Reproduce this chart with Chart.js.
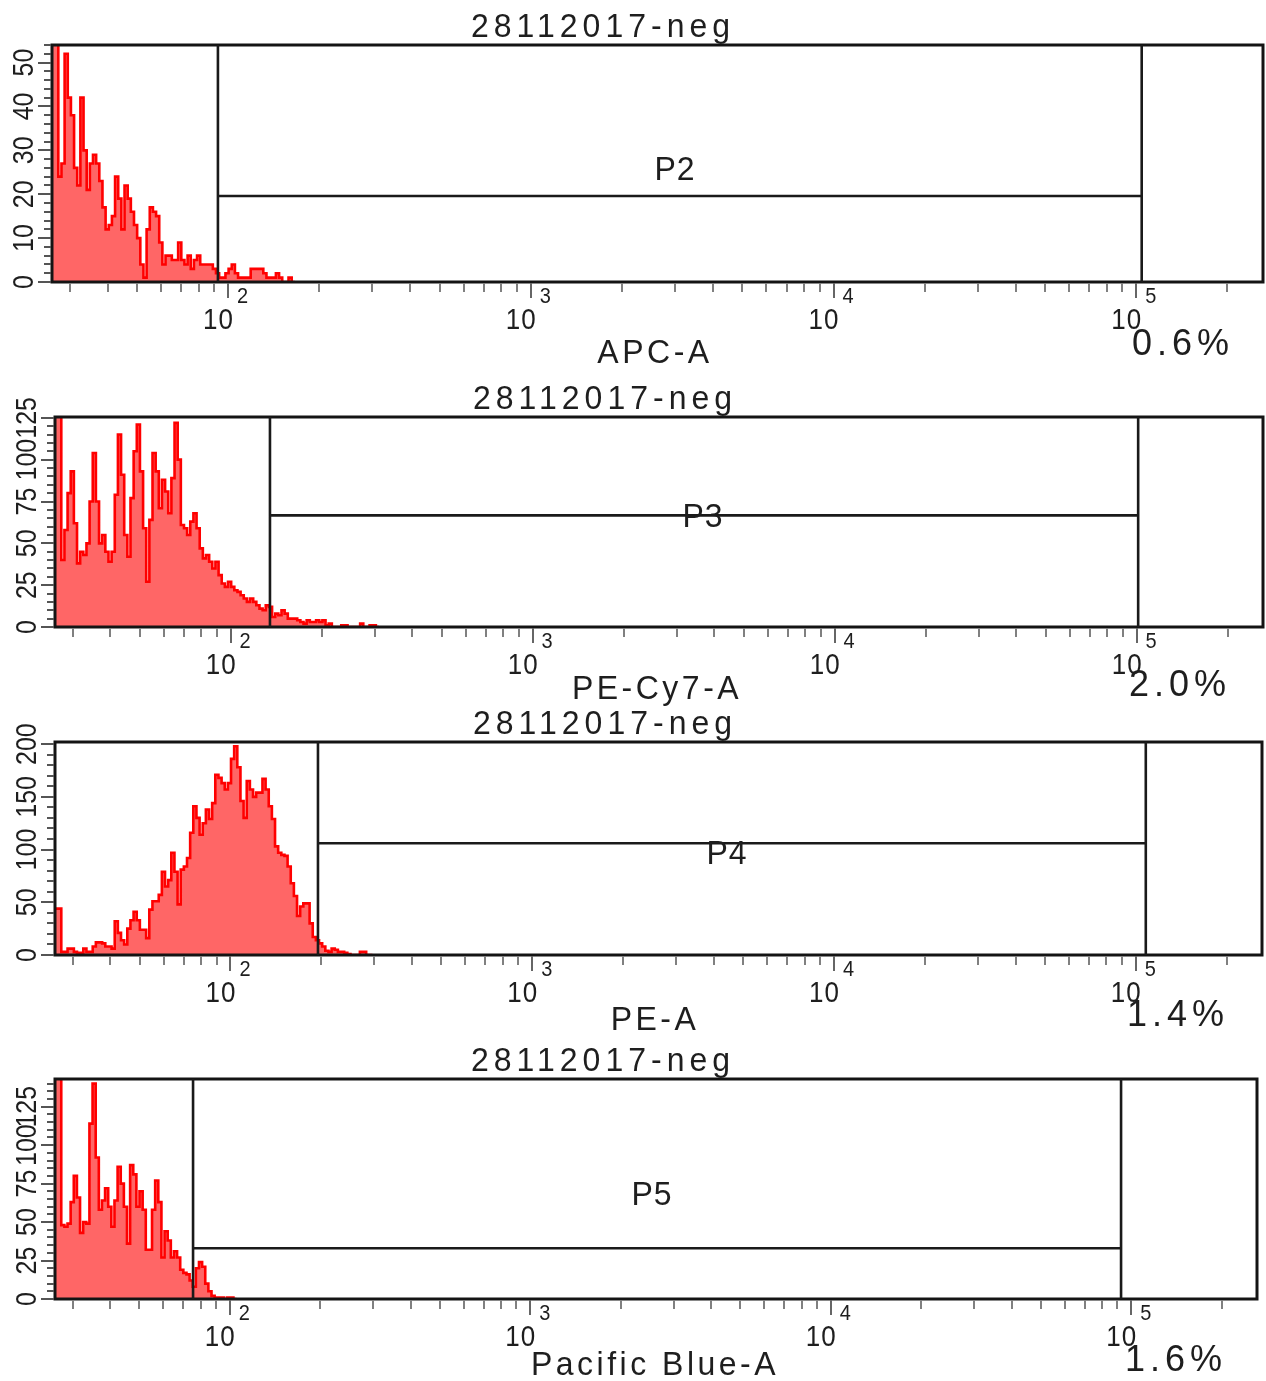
<!DOCTYPE html>
<html><head><meta charset="utf-8">
<script src="https://cdn.jsdelivr.net/npm/chart.js@4.4.1/dist/chart.umd.min.js"></script>
<style>
html,body{margin:0;padding:0;background:#fff;}
#wrap{position:relative;width:1266px;height:1381px;overflow:hidden;background:#fff;}
#wrap canvas{position:absolute;left:0;top:0;}
</style></head><body><div id="wrap">
<canvas id="c0" width="1266" height="1381"></canvas>
<canvas id="c1" width="1266" height="1381"></canvas>
<canvas id="c2" width="1266" height="1381"></canvas>
<canvas id="c3" width="1266" height="1381"></canvas>
</div>
<script>
// ---------------- data ----------------
const sampleName = '28112017-neg';
const channels = ['APC-A', 'PE-Cy7-A', 'PE-A', 'Pacific Blue-A'];
const gateNames = ['P2', 'P3', 'P4', 'P5'];
const gatePercents = ['0.6%', '2.0%', '1.4%', '1.6%'];
const gateLow = [92.6, 135, 195, 75.5];
const gateHigh = [104200, 101200, 108000, 92500];
const gateLevel = [19.6, 66.7, 106, 33];
const yMax = [54, 125.5, 202, 143];
const yMajorStep = [10, 25, 50, 25];
const yMinorStep = [2, 5, 10, 5];
const xMin = 26.2144, xMax = 262144;
const binsPerDecade = 96;
const xTickExponents = [2, 3, 4, 5];

const apcCounts = [60,60,55,24,27,52,42,38,26,22,42,30,21,27,29,27,23,17,12,13,15,24,19,12,22,19,16,13,10,4,1,12,17,16,15,9,4,6,6,5,5,9,5,4,6,3,5,6,4,4,4,4,3,2,1,1,2,3,4,2,1,1,1,1,3,3,3,3,2,1,1,1,2,1,0,0,1];
const peCy7Counts = [130,130,130,40,58,80,93,62,38,45,43,50,75,104,75,50,55,45,39,45,79,115,91,55,42,77,105,121,93,59,27,64,104,93,71,88,81,68,89,122,100,61,59,55,63,68,59,47,41,43,39,35,39,31,26,24,27,24,22,21,19,17,15,17,15,13,11,10,13,12,6,8,7,10,8,5,5,5,4,3,2,4,3,3,4,3,4,1,2,0,0,0,1,1,0,0,0,0,2,0,0,1,1];
const peCounts = [44,44,44,3,3,6,6,3,2,2,6,3,3,8,12,12,11,8,8,6,32,21,14,10,25,33,41,33,24,24,16,43,51,51,57,79,65,71,97,79,48,81,84,92,116,141,130,114,125,138,129,144,171,168,163,157,163,186,198,178,146,130,165,157,150,154,154,167,157,141,129,103,97,95,94,84,68,56,37,46,49,49,30,17,14,11,8,4,3,6,5,3,3,2,1,0,0,0,3,3,0];
const pacBlueCounts = [150,150,150,48,47,49,63,80,66,43,50,49,114,140,92,58,64,72,60,47,64,86,75,60,36,87,81,60,70,58,32,32,58,77,63,27,44,38,27,31,27,19,17,16,12,8,20,24,21,10,5,2,1,1,1,0,1,1];
const seriesCounts = [apcCounts, peCy7Counts, peCounts, pacBlueCounts];

// ---------------- layout (page pixels) ----------------
const areas = [
  {left:52, right:1263, top:45, bottom:282},
  {left:55, right:1263, top:417, bottom:627},
  {left:55, right:1262, top:742, bottom:955},
  {left:55, right:1257, top:1079, bottom:1299}
];
const titleX = [603, 605, 605, 603];
const axisLabelPos = [[655,363],[657,699],[655,1030],[655,1375]];
const percentPos = [[1183,355],[1180,696],[1178,1026],[1176,1371]];
const gateLabelPos = [[675,180],[703,527],[727,864],[652,1205]];

const INK = '#1e1e1e';
const FONT = "'Liberation Sans', Arial, sans-serif";
const SUP = {2:'2',3:'3',4:'4',5:'5'};

function binPoints(counts) {
  const l0 = Math.log10(xMin);
  const pts = counts.map((c, k) => ({x: Math.pow(10, l0 + k / binsPerDecade), y: c}));
  pts.push({x: Math.pow(10, l0 + counts.length / binsPerDecade), y: 0});
  return pts;
}

function txt(ctx, s, x, y, size, align, spacing, color, stretch) {
  ctx.save();
  ctx.font = size + 'px ' + FONT;
  ctx.fillStyle = color || INK;
  ctx.textAlign = align || 'center';
  ctx.textBaseline = 'alphabetic';
  try { ctx.letterSpacing = (spacing || 0) + 'px'; } catch (e) {}
  ctx.translate(x, y);
  ctx.scale(1, stretch || 1);
  ctx.fillText(s, 0, 0);
  ctx.restore();
}

const decor = {
  id: 'decor',
  afterDatasetsDraw(chart, args, opts) {
    const i = opts.idx;
    const ctx = chart.ctx;
    const xs = chart.scales.x, ys = chart.scales.y;
    const a = chart.chartArea;
    ctx.save();
    // plot frame
    ctx.strokeStyle = '#141414';
    ctx.lineWidth = 3;
    ctx.strokeRect(a.left, a.top, a.right - a.left, a.bottom - a.top);
    // gate
    const gl = xs.getPixelForValue(gateLow[i]);
    const gh = xs.getPixelForValue(gateHigh[i]);
    const gy = ys.getPixelForValue(gateLevel[i]);
    ctx.lineWidth = 2.6;
    ctx.strokeStyle = '#1a1a1a';
    ctx.beginPath();
    ctx.moveTo(gl, a.top); ctx.lineTo(gl, a.bottom);
    ctx.moveTo(gh, a.top); ctx.lineTo(gh, a.bottom);
    ctx.moveTo(gl, gy); ctx.lineTo(gh, gy);
    ctx.stroke();
    // x ticks
    ctx.lineWidth = 2;
    for (let e = 1; e <= 5; e++) {
      for (let m = 1; m <= 9; m++) {
        const v = m * Math.pow(10, e);
        if (v < xMin || v > xMax) continue;
        const px = Math.round(xs.getPixelForValue(v));
        ctx.strokeStyle = m === 1 ? '#666' : '#808080';
        ctx.beginPath();
        ctx.moveTo(px, a.bottom + 1);
        ctx.lineTo(px, a.bottom + (m === 1 ? 16 : 10));
        ctx.stroke();
      }
    }
    // y ticks
    ctx.strokeStyle = '#555';
    const nMinor = Math.floor(yMax[i] / yMinorStep[i] + 1e-9);
    for (let k = 0; k <= nMinor; k++) {
      const v = k * yMinorStep[i];
      const py = Math.round(ys.getPixelForValue(v));
      const major = (v % yMajorStep[i]) === 0;
      ctx.beginPath();
      ctx.moveTo(a.left - 1, py);
      ctx.lineTo(a.left - (major ? 14 : 8), py);
      ctx.stroke();
    }
    ctx.restore();
    // y tick labels (rotated)
    for (let v = 0; v <= yMax[i] + 1e-9; v += yMajorStep[i]) {
      const py = ys.getPixelForValue(v);
      ctx.save();
      ctx.translate(a.left - 19, py);
      ctx.rotate(-Math.PI / 2);
      ctx.scale(1, 1.2);
      ctx.font = '25px ' + FONT;
      ctx.fillStyle = INK;
      ctx.textAlign = 'center';
      ctx.textBaseline = 'alphabetic';
      ctx.fillText(String(v), 0, 0);
      ctx.restore();
    }
    // x tick labels
    xTickExponents.forEach(e => {
      const px = xs.getPixelForValue(Math.pow(10, e));
      txt(ctx, '10', px + 6, a.bottom + 47, 26, 'right', 1, INK, 1.1);
      txt(ctx, SUP[e], px + 9, a.bottom + 21, 20, 'left', 0, INK, 1.1);
    });
    // texts
    txt(ctx, sampleName, titleX[i], a.top - 8, 32, 'center', 5, INK, 1.05);
    txt(ctx, channels[i], axisLabelPos[i][0], axisLabelPos[i][1], 32, 'center', 3.5, INK, 1.05);
    txt(ctx, gatePercents[i], percentPos[i][0], percentPos[i][1], 36, 'center', 5, INK, 1.05);
    txt(ctx, gateNames[i], gateLabelPos[i][0], gateLabelPos[i][1], 32, 'center', 1, INK, 1.05);
  }
};

seriesCounts.forEach((counts, i) => {
  const a = areas[i];
  new Chart(document.getElementById('c' + i), {
    type: 'line',
    data: {
      datasets: [{
        label: channels[i],
        data: binPoints(counts),
        stepped: 'after',
        fill: 'origin',
        backgroundColor: '#ff6666',
        borderColor: '#ff0000',
        borderWidth: 2.6,
        pointRadius: 0,
        tension: 0
      }]
    },
    options: {
      responsive: false,
      animation: false,
      devicePixelRatio: 1,
      layout: {padding: {left: a.left, right: 1266 - a.right, top: a.top, bottom: 1381 - a.bottom}},
      scales: {
        x: {type: 'logarithmic', min: xMin, max: xMax, display: false},
        y: {type: 'linear', min: 0, max: yMax[i], display: false}
      },
      plugins: {
        legend: {display: false},
        tooltip: {enabled: false},
        title: {display: false},
        decor: {idx: i}
      }
    },
    plugins: [decor]
  });
});
</script>
</body></html>
